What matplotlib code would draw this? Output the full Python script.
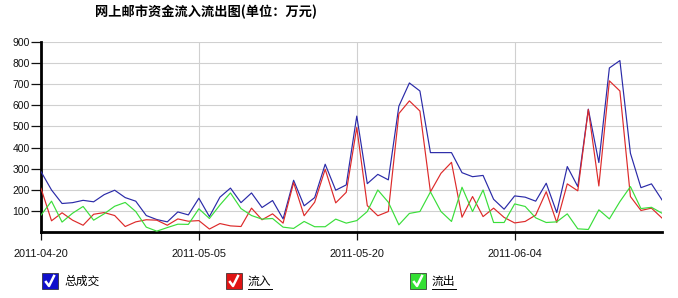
import matplotlib
matplotlib.use("Agg")
import matplotlib.pyplot as plt
import matplotlib.dates as mdates
from matplotlib.patches import Rectangle
from matplotlib.lines import Line2D
import pandas as pd

plt.rcParams['font.family'] = ['Liberation Sans', 'Noto Sans CJK SC', 'DejaVu Sans']

# daily values, 2011-04-20 .. 2011-06-18 (unit: 10k yuan)
dates = pd.date_range('2011-04-20', periods=60)
total = [286, 199, 135, 139, 150, 143, 177, 198, 163, 146,
         78, 59, 48, 95, 81, 160, 73, 165, 208, 139,
         185, 116, 149, 62, 245, 124, 163, 321, 198, 223,
         549, 229, 273, 247, 596, 706, 668, 376, 376, 376,
         281, 262, 268, 155, 108, 171, 165, 146, 231, 92,
         310, 215, 582, 329, 777, 812, 373, 210, 228, 152]
inflow = [207, 53, 91, 56, 32, 84, 92, 78, 26, 48,
          58, 56, 32, 62, 51, 54, 14, 40, 29, 26,
          113, 58, 86, 42, 234, 77, 141, 297, 138, 188,
          495, 125, 77, 97, 561, 621, 573, 190, 278, 330,
          70, 168, 73, 113, 69, 43, 50, 80, 191, 45,
          228, 195, 580, 218, 716, 668, 168, 102, 113, 66]
outflow = [80, 146, 47, 89, 121, 56, 86, 122, 140, 97,
           23, 4, 21, 37, 36, 110, 64, 128, 185, 111,
           78, 61, 64, 23, 17, 50, 25, 25, 61, 42,
           54, 97, 199, 141, 34, 88, 97, 190, 97, 50,
           212, 97, 199, 45, 45, 133, 121, 67, 45, 48,
           86, 15, 12, 105, 62, 144, 215, 111, 117, 89]

title = '网上邮市资金流入流出图(单位：万元)'
series_names = ['总成交', '流入', '流出']
line_colors = ['#2a2aa8', '#dd2a2a', '#3ade3a']
box_colors = ['#1010cc', '#e01414', '#34e034']
yticks = [100, 200, 300, 400, 500, 600, 700, 800, 900]

W, H = 678, 298
fig = plt.figure(figsize=(W / 100, H / 100), dpi=100)
ax = fig.add_axes([41 / W, 1 - 232 / H, (662 - 41) / W, (232 - 42) / H])

for vals, c in zip([total, inflow, outflow], line_colors):
    ax.plot(dates, vals, color=c, lw=0.85, zorder=3)

ax.set_xlim(dates[0], dates[-1])
ax.set_ylim(0, 900)
ax.set_yticks(yticks)
ax.set_xticks(dates[::15])
ax.xaxis.set_major_formatter(mdates.DateFormatter('%Y-%m-%d'))
ax.grid(True, color='#d0d0d0', lw=0.8, zorder=0)
ax.tick_params(axis='y', length=7, width=0.9, labelsize=7.5, pad=1, colors='#111111')
ax.tick_params(axis='x', length=6, width=0.9, labelsize=7.8, pad=6, colors='#111111')
for s in ['top', 'right']:
    ax.spines[s].set_visible(False)
for s in ['left', 'bottom']:
    ax.spines[s].set_linewidth(2)
    ax.spines[s].set_color('black')

fig.text(206 / W, 1 - 12 / H, title, ha='center', va='center', fontsize=9.5,
         fontweight='bold', family=['Noto Sans CJK SC', 'DejaVu Sans'])

# legend with check boxes
for k, (name, bc) in enumerate(zip(series_names, box_colors)):
    x0 = 42 + 184 * k
    y0 = 281
    fig.add_artist(Rectangle((x0 / W, 1 - (y0 + 8) / H), 16 / W, 16 / H,
                             transform=fig.transFigure, facecolor=bc,
                             edgecolor='#222222', lw=0.5))
    fig.add_artist(Line2D([(x0 + 4) / W, (x0 + 7) / W, (x0 + 12) / W],
                          [1 - (y0 + 1) / H, 1 - (y0 + 5) / H, 1 - (y0 - 5) / H],
                          transform=fig.transFigure, color='white', lw=1.8))
    fig.text((x0 + 22) / W, 1 - y0 / H, name, ha='left', va='center',
             fontsize=8.5, family=['Noto Sans CJK SC', 'DejaVu Sans'])
    if k > 0:
        # underlined series names
        fig.add_artist(Line2D([(x0 + 22) / W, (x0 + 22 + 24) / W],
                              [1 - (y0 + 8) / H, 1 - (y0 + 8) / H],
                              transform=fig.transFigure, color='black', lw=0.7))

fig.savefig('out.png', dpi=100)
